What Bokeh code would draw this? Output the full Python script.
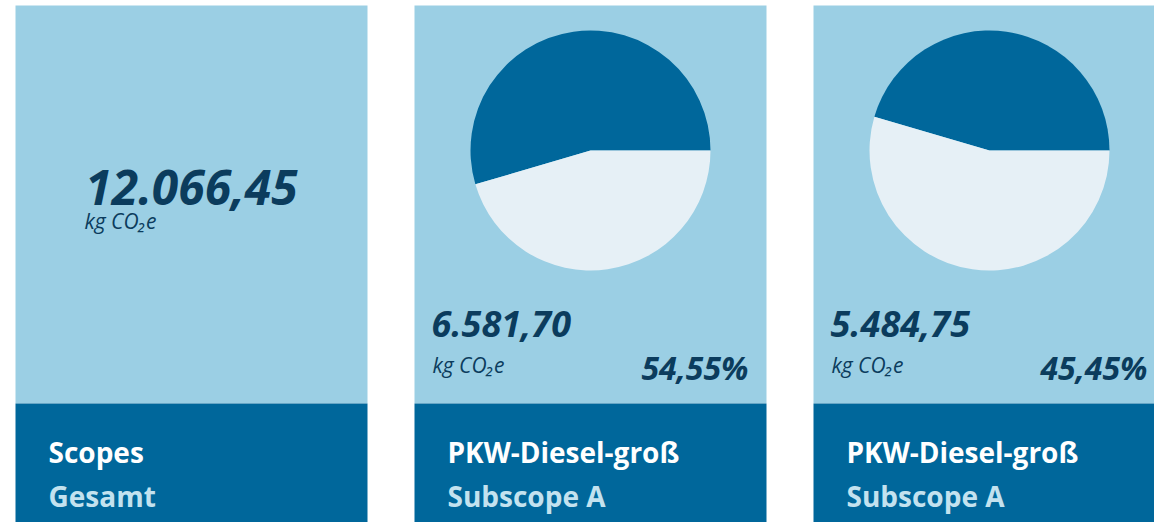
import math
from bokeh.plotting import figure
from bokeh.models import Range1d
from bokeh.core.properties import value
from bokeh.embed import file_html
from bokeh.resources import INLINE

# ---- data ----
titles = ["Scopes", "PKW-Diesel-groß", "PKW-Diesel-groß"]
subtitles = ["Gesamt", "Subscope A", "Subscope A"]
total_value = 12066.45
sub_values = [6581.70, 5484.75]
unit_label = "kg CO₂e"

LIGHT = "#9BCFE4"
DARK = "#00679B"
PIE_LIGHT = "#E6F0F6"
NAVY = "#0B3C5D"
SUBT = "#C3E2EF"
FONT = "Open Sans"


def de(v, nd=2):
    s = f"{v:,.{nd}f}"
    return s.replace(",", "X").replace(".", ",").replace("X", ".")


W, H = 1154, 522
p = figure(width=W, height=H, x_range=Range1d(0, W), y_range=Range1d(0, H),
           output_backend="svg", toolbar_location=None,
           x_axis_type=None, y_axis_type=None, min_border=0)
p.grid.visible = False
p.outline_line_color = None
p.background_fill_color = "white"
p.border_fill_color = "white"


def Y(py):
    return H - py


panel_w = 352
step = 399
left0 = 15
split = 403
for i in range(3):
    l = left0 + i * step
    p.quad(left=[l], right=[l + panel_w], top=[Y(5)], bottom=[Y(split)],
           fill_color=LIGHT, line_color=None)
    p.quad(left=[l], right=[l + panel_w], top=[Y(split)], bottom=[Y(560)],
           fill_color=DARK, line_color=None)
    p.text(x=[l + 33], y=[Y(451)], text=[titles[i]], text_color="white",
           text_font=value(FONT), text_font_style="bold", text_font_size="28px",
           text_baseline="alphabetic")
    p.text(x=[l + 33], y=[Y(495)], text=[subtitles[i]], text_color=SUBT,
           text_font=value(FONT), text_font_style="bold", text_font_size="28px",
           text_baseline="alphabetic")

# panel 1 total
cx1 = left0 + panel_w / 2
p.text(x=[cx1], y=[Y(187)], text=[de(total_value)], text_color=NAVY,
       text_font=value(FONT), text_font_style="bold italic", text_font_size="48px",
       text_baseline="alphabetic", text_align="center")
p.text(x=[84], y=[Y(220)], text=[unit_label], text_color=NAVY,
       text_font=value(FONT), text_font_style="italic", text_font_size="21px",
       text_baseline="alphabetic")

# sub panels
for j, v in enumerate(sub_values):
    l = left0 + (j + 1) * step
    cx = l + panel_w / 2
    cy = Y(150)
    frac = v / total_value
    ang = frac * 2 * math.pi
    p.wedge(x=[cx], y=[cy], radius=120, radius_units="screen", start_angle=0,
            end_angle=ang, fill_color=DARK, line_color=None)
    p.wedge(x=[cx], y=[cy], radius=120, radius_units="screen", start_angle=ang,
            end_angle=2 * math.pi, fill_color=PIE_LIGHT, line_color=None)
    p.text(x=[l + 17], y=[Y(323)], text=[de(v)], text_color=NAVY,
           text_font=value(FONT), text_font_style="bold italic", text_font_size="36px",
           text_baseline="alphabetic")
    p.text(x=[l + 18], y=[Y(364)], text=[unit_label], text_color=NAVY,
           text_font=value(FONT), text_font_style="italic", text_font_size="21px",
           text_baseline="alphabetic")
    p.text(x=[l + 334], y=[Y(367)], text=[de(frac * 100) + "%"], text_color=NAVY,
           text_font=value(FONT), text_font_style="bold italic", text_font_size="32px",
           text_baseline="alphabetic", text_align="right")

open("out.html", "w").write(file_html(p, INLINE))
